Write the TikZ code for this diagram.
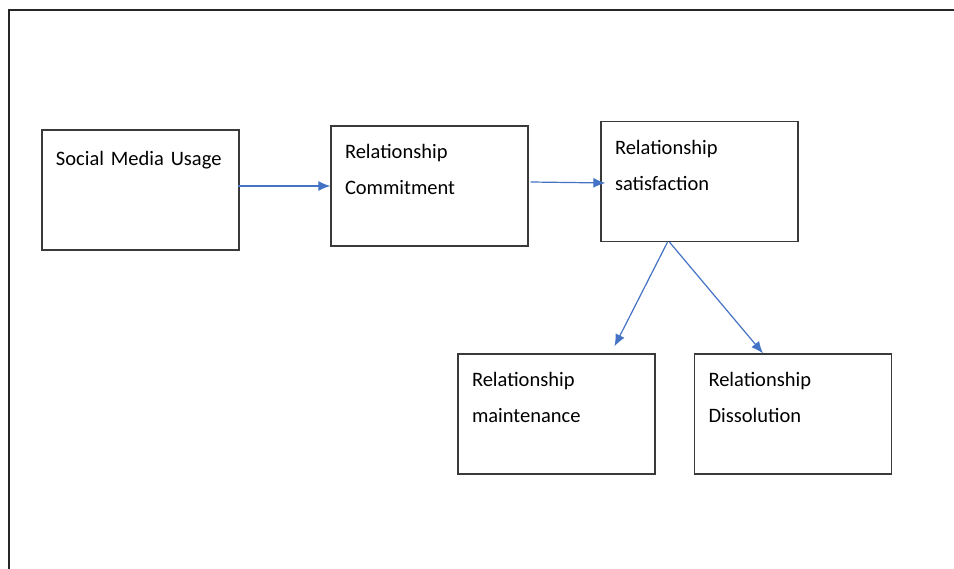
\documentclass[tikz,border=0pt]{standalone}
\usepackage{fontspec}
\setmainfont{Carlito}
\usetikzlibrary{positioning,arrows.meta}
\definecolor{arrowblue}{HTML}{4472C4}
\definecolor{boxgrey}{HTML}{3A3A3A}

\begin{document}
\begin{tikzpicture}[x=1pt, y=-1pt,
  stagebox/.style={rectangle, draw=boxgrey, line width=1.3pt, minimum width=197pt, minimum height=120pt,
    text width=169pt, align=left, inner xsep=14pt, inner ysep=0pt, text height=33pt, text depth=87pt,
    font=\fontsize{20.5}{36}\selectfont},
  link/.style={draw=arrowblue, line width=1.2pt, -{Latex[length=12pt,width=10pt]}}]
\useasboundingbox (0, 0) rectangle (954, 569);
\draw[line width=2.4pt, black!85] (954, 10) -- (9, 10) -- (9, 569);

\node[stagebox, text height=36pt, text depth=84pt] (usage) at (140.5, 190) {Social Media Usage};
\node[stagebox] (commit) at (429.5, 186) {Relationship\\Commitment};
\node[stagebox] (satis) at (699.5, 181.5) {Relationship\\satisfaction};
\node[stagebox] (maint) at (556.5, 414) {Relationship\\maintenance};
\node[stagebox] (dissol) at (793, 414) {Relationship\\Dissolution};

\draw[link] ([xshift=-2pt, yshift=4pt]usage.east) -- (commit.west);
\draw[link] ([xshift=2pt, yshift=4pt]commit.east) -- ([xshift=5pt, yshift=-1.5pt]satis.west);
\draw[link] ([xshift=-32pt]satis.south) -- ([xshift=58pt, yshift=7pt]maint.north);
\draw[link] ([xshift=-30pt]satis.south) -- ([xshift=-30pt]dissol.north);

\end{tikzpicture}
\end{document}
